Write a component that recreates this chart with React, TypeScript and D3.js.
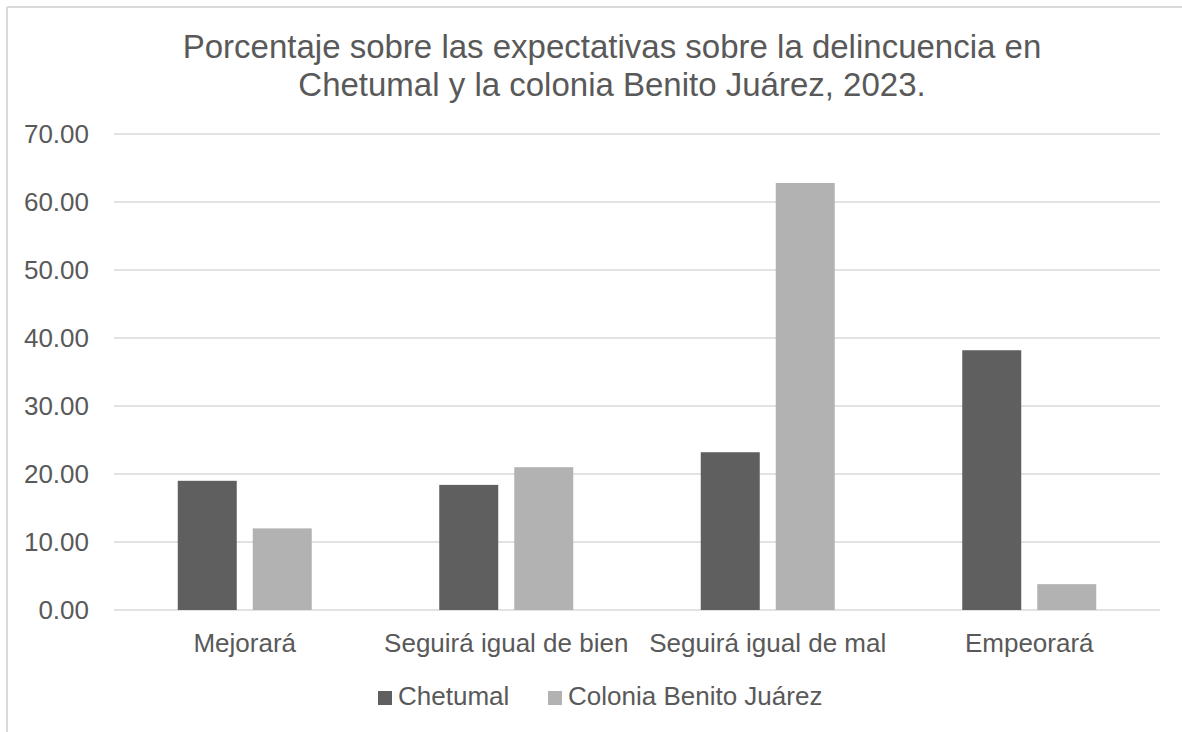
import React from "react";
import * as d3 from "d3";

const categories = ["Mejorará", "Seguirá igual de bien", "Seguirá igual de mal", "Empeorará"];
const seriesNames = ["Chetumal", "Colonia Benito Juárez"];
const chetumal = [19.0, 18.4, 23.2, 38.2];
const coloniaBJ = [12.0, 21.0, 62.8, 3.8];
const yTicks = [0, 10, 20, 30, 40, 50, 60, 70];
const titleLines = [
  "Porcentaje sobre las expectativas sobre la delincuencia en",
  "Chetumal y la colonia Benito Juárez, 2023.",
];
const colors = ["#5f5f5f", "#b2b2b2"];

const W = 1182;
const H = 732;
const FONT = "'Liberation Sans', Arial, sans-serif";
const TEXT = "#595959";
const GRID = "#d9d9d9";

export default function App() {
  const x = d3.scaleBand<string>().domain(categories).range([114, 1160]).paddingInner(0).paddingOuter(0);
  const groupW = 134;
  const inner = d3.scaleBand<string>().domain(seriesNames).range([0, groupW]).paddingInner(0.2133).paddingOuter(0);
  const y = d3.scaleLinear().domain([0, 70]).range([610, 134]);
  const series = [chetumal, coloniaBJ];
  const legendX = [378, 548];

  return (
    <svg width={W} height={H} style={{ position: "fixed", left: 0, top: 0, background: "#fff" }} fontFamily={FONT}>
      <rect x={0} y={0} width={W} height={H} fill="#fff" />
      <line x1={7} y1={7} x2={W} y2={7} stroke={GRID} strokeWidth={2} />
      <line x1={7} y1={7} x2={7} y2={H} stroke={GRID} strokeWidth={2} />
      {titleLines.map((t, i) => (
        <text key={i} x={612} y={58 + i * 38} textAnchor="middle" fontSize={33} fill={TEXT}>
          {t}
        </text>
      ))}
      {yTicks.map((t) => (
        <g key={t}>
          <line x1={114} x2={1160} y1={y(t)} y2={y(t)} stroke={GRID} strokeWidth={1.5} />
          <text x={89} y={y(t) + 9} textAnchor="end" fontSize={26} fill={TEXT}>
            {d3.format(".2f")(t)}
          </text>
        </g>
      ))}
      {categories.map((c, ci) => {
        const gx = (x(c) as number) + (x.bandwidth() - groupW) / 2;
        return (
          <g key={c}>
            {seriesNames.map((s, si) => {
              const v = series[si][ci];
              return (
                <rect
                  key={s}
                  x={gx + (inner(s) as number)}
                  y={y(v)}
                  width={inner.bandwidth()}
                  height={y(0) - y(v)}
                  fill={colors[si]}
                />
              );
            })}
            <text x={(x(c) as number) + x.bandwidth() / 2} y={652} textAnchor="middle" fontSize={26} fill={TEXT}>
              {c}
            </text>
          </g>
        );
      })}
      {seriesNames.map((s, si) => (
        <g key={s}>
          <rect x={legendX[si]} y={691} width={14} height={14} fill={colors[si]} />
          <text x={legendX[si] + 20} y={705} fontSize={26} fill={TEXT}>
            {s}
          </text>
        </g>
      ))}
    </svg>
  );
}
